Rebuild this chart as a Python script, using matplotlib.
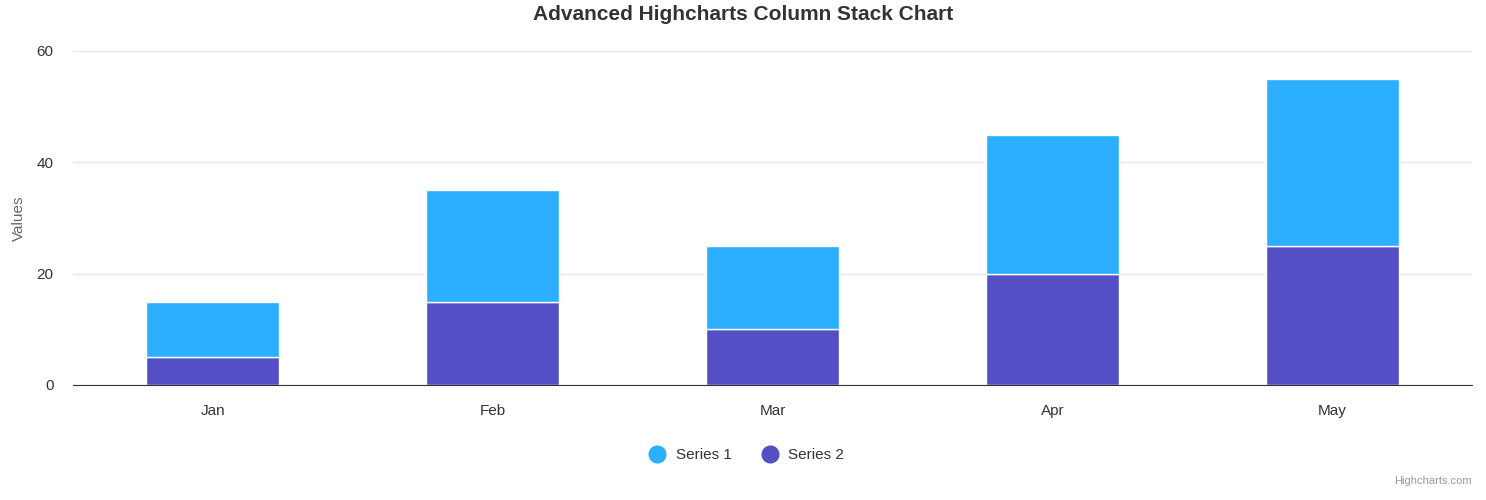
import matplotlib
matplotlib.use("Agg")
import matplotlib.pyplot as plt
from matplotlib.lines import Line2D

plt.rcParams['font.family'] = ['Liberation Sans', 'DejaVu Sans']

months = ["Jan", "Feb", "Mar", "Apr", "May"]
series1 = [10, 20, 15, 25, 30]
series2 = [5, 15, 10, 20, 25]
c1 = "#2caffe"
c2 = "#544fc5"

fig = plt.figure(figsize=(14.86, 5.0), dpi=100)
ax = fig.add_axes([73/1486, 1-385/500, 1399/1486, 334/500])

x = list(range(len(months)))
ax.bar(x, series2, width=0.475, color=c2, edgecolor="white", linewidth=1, zorder=3)
ax.bar(x, series1, width=0.475, bottom=series2, color=c1, edgecolor="white", linewidth=1, zorder=3)

ax.set_xlim(-0.5, 4.5)
ax.set_ylim(0, 60)
ax.set_yticks([0, 20, 40, 60])
ax.set_xticks(x)
ax.set_xticklabels(months)
ax.grid(axis="y", color="#e6e6e6", linewidth=1, zorder=0)
for s in ["top", "right", "left"]:
    ax.spines[s].set_visible(False)
ax.spines["bottom"].set_color("#333333")
ax.spines["bottom"].set_zorder(4)
ax.tick_params(axis="both", length=0, labelsize=11, labelcolor="#333333")
ax.tick_params(axis="x", pad=14)
ax.tick_params(axis="y", pad=14)
ax.set_ylabel("Values", fontsize=11, color="#666666", labelpad=8)

fig.text(0.5, 1-15/500, "Advanced Highcharts Column Stack Chart", ha="center", va="center",
         fontsize=15, fontweight="bold", color="#333333")

handles = [Line2D([], [], marker="o", linestyle="", markersize=12, color=c1),
           Line2D([], [], marker="o", linestyle="", markersize=12, color=c2)]
fig.legend(handles, ["Series 1", "Series 2"], loc="center", bbox_to_anchor=(0.5, 1-455/500),
           ncol=2, frameon=False, fontsize=11, handletextpad=0.2, columnspacing=1.5,
           labelcolor="#333333")

fig.text(1-14/1486, 1-481/500, "Highcharts.com", ha="right", va="center", fontsize=8, color="#999999")

fig.savefig("out.png", dpi=100)
